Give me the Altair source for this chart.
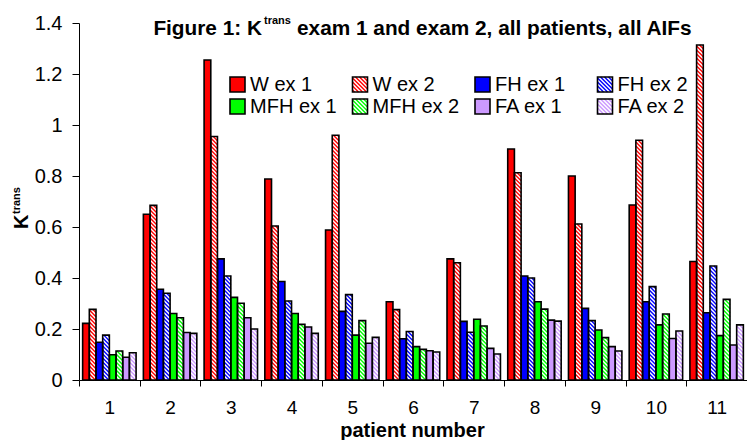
import altair as alt
import pandas as pd

# ---------------- data ----------------
patients = list(range(1, 12))
series = ["W ex 1", "W ex 2", "FH ex 1", "FH ex 2", "MFH ex 1", "MFH ex 2", "FA ex 1", "FA ex 2"]
colors = ["#FF0000", "#FF0000", "#0000FF", "#0000FF", "#00FF00", "#00FF00", "#CC99FF", "#CC99FF"]
hatched = [False, True, False, True, False, True, False, True]

w_ex1 = [0.222, 0.650, 1.255, 0.788, 0.588, 0.307, 0.475, 0.906, 0.800, 0.686, 0.465]
w_ex2 = [0.277, 0.685, 0.955, 0.604, 0.960, 0.276, 0.460, 0.813, 0.612, 0.940, 1.314]
fh_ex1 = [0.148, 0.356, 0.475, 0.386, 0.269, 0.162, 0.230, 0.408, 0.281, 0.307, 0.264]
fh_ex2 = [0.176, 0.340, 0.408, 0.310, 0.335, 0.190, 0.187, 0.400, 0.233, 0.366, 0.447]
mfh_ex1 = [0.099, 0.261, 0.324, 0.261, 0.176, 0.131, 0.238, 0.307, 0.196, 0.216, 0.174]
mfh_ex2 = [0.114, 0.244, 0.301, 0.218, 0.233, 0.120, 0.212, 0.278, 0.166, 0.259, 0.316]
fa_ex1 = [0.089, 0.186, 0.244, 0.208, 0.144, 0.115, 0.124, 0.235, 0.131, 0.163, 0.137]
fa_ex2 = [0.107, 0.183, 0.200, 0.183, 0.167, 0.110, 0.102, 0.231, 0.114, 0.192, 0.216]
all_values = [w_ex1, w_ex2, fh_ex1, fh_ex2, mfh_ex1, mfh_ex2, fa_ex1, fa_ex2]

y_ticks = [0, 0.2, 0.4, 0.6, 0.8, 1.0, 1.2, 1.4]
title_a = "Figure 1: K"
title_sup = "trans"
title_c = "exam 1 and exam 2, all patients, all AIFs"
x_title = "patient number"
y_title = "K"
y_title_sup = "trans"

# ---------------- layout ----------------
FONT = "Liberation Sans"
PW, PH = 668, 357
YMAX = 1.4
PAD_L, PAD_T, PAD_B = 71, 15, 60
KX = PW / len(patients)
KY = PH / YMAX
ORIGIN_X = 8 + PAD_L
BASE_Y = 8 + PAD_T + PH
BW = 0.11
GPAD = (1 - len(series) * BW) / 2
PITCH = 4.0


def dx(px):
    return 0.5 + (px - ORIGIN_X) / KX


def dy(py):
    return (BASE_Y - py) / KY


def stripes_px(w, h, color):
    out = []
    s = PITCH * 0.5
    while s < w + h:
        xa = max(0.0, s - h)
        xb = min(w, s)
        if xb - xa > 0.2:
            out.append((xa, s - xa, xb, s - xb, color))
        s += PITCH
    return out


rects = []
stripes = []
for si, name in enumerate(series):
    for pi, p in enumerate(patients):
        v = all_values[si][pi]
        x0 = p - 0.5 + GPAD + si * BW
        x1 = x0 + BW
        rects.append(dict(x=x0, x2=x1, y=v, y2=0.0, fill="white" if hatched[si] else colors[si]))
        if hatched[si]:
            for xa, ya, xb, yb, c in stripes_px(BW * KX, v * KY, colors[si]):
                stripes.append(dict(x=x0 + xa / KX, y=ya / KY, x2=x0 + xb / KX, y2=yb / KY, color=c))

# legend (built from the series list)
leg_text = []
SQ = 15
for i, name in enumerate(series):
    row, col = i // 4, i % 4
    sx = 230 + col * 122.5
    sy = 77 + row * 22
    rects.append(dict(x=dx(sx), x2=dx(sx + SQ), y=dy(sy), y2=dy(sy + SQ),
                      fill="white" if hatched[i] else colors[i]))
    if hatched[i]:
        for xa, ya, xb, yb, c in stripes_px(SQ, SQ, colors[i]):
            stripes.append(dict(x=dx(sx + xa), y=dy(sy + SQ - ya), x2=dx(sx + xb), y2=dy(sy + SQ - yb), color=c))
    leg_text.append(dict(x=dx(sx + SQ + 5), y=dy(sy + SQ / 2), label=name))

rect_df = pd.DataFrame(rects)
stripe_df = pd.DataFrame(stripes)
leg_df = pd.DataFrame(leg_text)

xscale = alt.Scale(domain=[0.5, 11.5], nice=False, zero=False)
yscale = alt.Scale(domain=[0, YMAX], nice=False, zero=False)

x_axis = alt.Axis(
    values=[k / 2 for k in range(1, 2 * len(patients) + 2)],
    labelExpr="datum.value % 1 == 0 ? format(datum.value, 'd') : ''",
    tickOpacity={"condition": {"test": "datum.value % 1 != 0", "value": 1}, "value": 0},
    tickSize=6, tickColor="black", domainColor="black", labelColor="black",
    labelFontSize=19, labelPadding=12, labelOverlap=False, labelFlush=False,
    grid=False, title=None,
)
y_axis = alt.Axis(
    values=y_ticks, format="~g", tickSize=7, tickColor="black", domainColor="black",
    labelColor="black", labelFontSize=20, labelPadding=10, labelOverlap=False,
    labelFlush=False, grid=False, title=None,
)


def xy():
    return dict(
        x=alt.X("x:Q", scale=xscale, axis=x_axis),
        y=alt.Y("y:Q", scale=yscale, axis=y_axis),
    )


fills = alt.Chart(rect_df).mark_rect(strokeWidth=0).encode(
    x2="x2:Q", y2="y2:Q", fill=alt.Fill("fill:N", scale=None), **xy()
)

stripe_layer = alt.Chart(stripe_df).mark_rule(strokeWidth=1.4, strokeCap="butt").encode(
    x2="x2:Q", y2="y2:Q", color=alt.Color("color:N", scale=None), **xy()
)

outlines = alt.Chart(rect_df).mark_rect(filled=False, stroke="black", strokeWidth=1.6).encode(
    x2="x2:Q", y2="y2:Q", **xy()
)


def text_layer(df, **kw):
    return alt.Chart(df).mark_text(font=FONT, color="black", **kw).encode(
        text="label:N", **xy()
    )


legend_layer = text_layer(leg_df, fontSize=20, align="left", baseline="middle")

title_a_layer = text_layer(pd.DataFrame([dict(x=dx(262), y=dy(35.3), label=title_a)]),
                           fontSize=20.8, fontWeight="bold", align="right", baseline="alphabetic")
title_sup_layer = text_layer(pd.DataFrame([dict(x=dx(264), y=dy(24), label=title_sup)]),
                             fontSize=11, fontWeight="bold", align="left", baseline="alphabetic")
title_c_layer = text_layer(pd.DataFrame([dict(x=dx(297), y=dy(35.3), label=title_c)]),
                           fontSize=20.8, fontWeight="bold", align="left", baseline="alphabetic")
xtitle_layer = text_layer(pd.DataFrame([dict(x=dx(412.5), y=dy(437), label=x_title)]),
                          fontSize=20, fontWeight="bold", align="center", baseline="alphabetic")
ytitle_layer = text_layer(pd.DataFrame([dict(x=dx(28), y=dy(229), label=y_title)]),
                          fontSize=20, fontWeight="bold", align="left", baseline="alphabetic", angle=270)
ysup_layer = text_layer(pd.DataFrame([dict(x=dx(20), y=dy(214), label=y_title_sup)]),
                        fontSize=11, fontWeight="bold", align="left", baseline="alphabetic", angle=270)

chart = alt.layer(
    fills, stripe_layer, outlines, legend_layer,
    title_a_layer, title_sup_layer, title_c_layer, xtitle_layer, ytitle_layer, ysup_layer,
).properties(
    width=PW, height=PH,
    autosize=alt.AutoSizeParams(type="none"),
    padding={"left": PAD_L, "top": PAD_T, "right": 0, "bottom": PAD_B},
    background="white",
).configure_view(strokeWidth=0).configure_axis(labelFont=FONT)

chart.save("out.html", embed_options={"renderer": "svg", "actions": False})
